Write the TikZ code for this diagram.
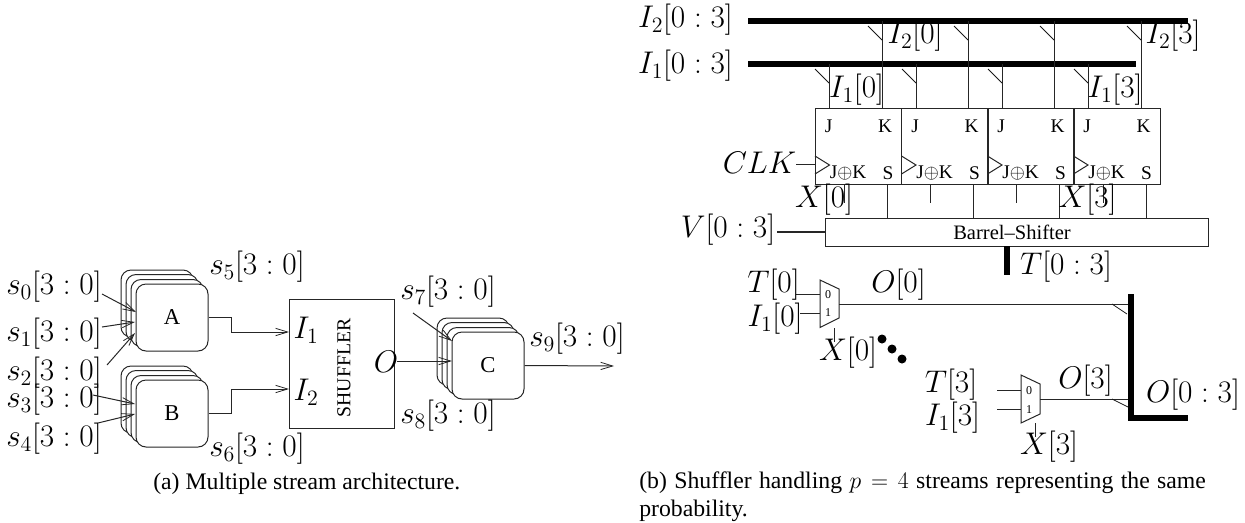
\documentclass[tikz,border=0pt]{standalone}
\usepackage{fix-cm}
\usepackage{fontspec}
\setmainfont{Liberation Serif}
\usetikzlibrary{arrows.meta}
\tikzset{
  wire/.style={line width=0.75pt,draw=black!85},
  thin wire/.style={line width=0.6pt,draw=black!90},
  bus/.style={line width=4.5pt,draw=black},
  arr/.style={wire,-{Straight Barb[length=9pt,width=5.5pt,line width=0.6pt]}},
  lab/.style={inner sep=0pt,font=\fontsize{23.5}{26}\selectfont},
  card/.style={draw=black!85,line width=0.75pt,fill=white,rounded corners=7.5pt,minimum width=54pt,minimum height=50.25pt,inner sep=0pt,font=\fontsize{17}{19}\selectfont},
  ffbox/.style={draw=black!85,line width=0.75pt,minimum width=64.6pt,minimum height=57pt,inner sep=0pt},
  small/.style={inner sep=0pt,font=\fontsize{14.5}{16}\selectfont},
  tiny/.style={inner sep=0pt,font=\fontsize{9}{10}\selectfont},
  captxt/.style={inner sep=0pt,font=\fontsize{17.8}{21}\selectfont,align=left},
}
\begin{document}
\begin{tikzpicture}[x=0.75pt,y=-0.75pt]
\useasboundingbox (0,0) rectangle (1245,522);
% stacks
\node[card] (a3) at (157,303.5) {};
\node[card] (a2) at (162,308) {};
\node[card] (a1) at (167,313) {};
\node[card] (a) at (172,317.5) {A};
\node[card] (b3) at (157,399.5) {};
\node[card] (b2) at (162,404) {};
\node[card] (b1) at (167,409) {};
\node[card] (b) at (172,413.5) {B};
\node[card] (c3) at (473,351.5) {};
\node[card] (c2) at (478,356) {};
\node[card] (c1) at (483,361) {};
\node[card] (c) at (488,365.5) {C};
% shuffler
\node[draw=black!85,line width=0.75pt,minimum width=78.75pt,minimum height=96.75pt,inner sep=0pt] (sh) at (341.5,363.5) {};
\node[inner sep=0pt,rotate=90,font=\fontsize{14.8}{16}\selectfont] (shl) at (344,368) {SHUFFLER};
\node[lab] (i1) at (306,330) {$I_1$};
\node[lab] (i2) at (306,392) {$I_2$};
\node[lab] (o) at (386,362) {$O$};
\coordinate (shi1) at (289,332);
\coordinate (shi2) at (289,389);
\draw[arr] (a.east) -- (231,317.5) |- (shi1);
\draw[arr] (b.east) -- (231,413.5) |- (shi2);
\coordinate (oo) at (397,361);
\coordinate (ci) at (452,361);
\draw[arr] (oo) -- (ci);
\coordinate (cout) at (614,366);
\draw[arr] (c.east) -- (cout);
% s labels
\node[lab] (s0) at (54,287) {$s_0[3:0]$};
\node[lab] (s1) at (54,334) {$s_1[3:0]$};
\node[lab] (s2) at (54,373) {$s_2[3:0]$};
\node[lab] (s3) at (54,400) {$s_3[3:0]$};
\node[lab] (s4) at (54,439) {$s_4[3:0]$};
\node[lab] (s5) at (257,267) {$s_5[3:0]$};
\node[lab] (s6) at (257,449) {$s_6[3:0]$};
\node[lab] (s7) at (448,292) {$s_7[3:0]$};
\node[lab] (s8) at (448,416) {$s_8[3:0]$};
\node[lab] (s9) at (577,339) {$s_9[3:0]$};
\coordinate (a0f) at (102,294); \coordinate (a0t) at (136,312);
\coordinate (a1f) at (102,327); \coordinate (a1t) at (135,322);
\coordinate (a2f) at (107,365); \coordinate (a2t) at (135,333);
\coordinate (b0f) at (93,395);  \coordinate (b0t) at (135,404);
\coordinate (b1f) at (98,423);  \coordinate (b1t) at (135,414);
\coordinate (c0f) at (413,313); \coordinate (c0t) at (452,341);
\foreach \p/\q in {a0f/a0t,a1f/a1t,a2f/a2t,b0f/b0t,b1f/b1t,c0f/c0t}
  \draw[arr] (\p) -- (\q);
% caption a
\node[captxt,anchor=base west] (capa) at (153,489) {(a) Multiple stream architecture.};
% buses
\coordinate (b2l) at (748,21); \coordinate (b2r) at (1188,21);
\coordinate (b1l) at (748,64); \coordinate (b1r) at (1136,64);
\draw[bus] (b2l) -- (b2r);
\draw[bus] (b1l) -- (b1r);
% flip flops
\foreach \n/\x in {0/858.5,1/945,2/1031,3/1117}{
  \node[ffbox] (ff\n) at (\x,146) {};
  \node[small] at (\x-30,126) {J};
  \node[small] at (\x+26.5,126) {K};
  \node[small] at (\x-10.5,173) {J$\oplus$K};
  \node[small] at (\x+29.5,173) {S};
  \draw[wire] (\x-43.5,156) -- (\x-29,165) -- (\x-43.5,174);
}
\foreach \x in {829,916,1002,1088}{
  \draw[wire] (\x,64) -- (\x,108);
  \draw[thin wire] (\x-14,69) -- (\x,83);
}
\foreach \x in {882,968,1054,1141}{
  \draw[wire] (\x,21) -- (\x,108);
  \draw[thin wire] (\x-14,26) -- (\x,40);
}
\node[lab] (li20) at (915,36) {$I_2[0]$};
\node[lab] (li23) at (1173,36) {$I_2[3]$};
\node[lab] (li10) at (856.5,90) {$I_1[0]$};
\node[lab] (li13) at (1115,90) {$I_1[3]$};
\node[lab] (li2) at (685.5,20) {$I_2[0:3]$};
\node[lab] (li1) at (685.5,66) {$I_1[0:3]$};
\node[lab] (clk) at (759.5,163) {$CLK$};
\coordinate (clkf) at (796,164);
\draw[wire] (clkf) -- (ff0.west |- clkf);
% barrel
\node[draw=black!85,line width=0.75pt,minimum width=287.25pt,minimum height=21pt,inner sep=0pt] (bs) at (1016.5,232) {};
\node[inner sep=0pt,font=\fontsize{15.4}{17}\selectfont] (bst) at (1012,232) {Barrel--Shifter};
\foreach \x in {887,973,1059,1146}
  \draw[wire] (\x,184) -- (\x,218);
\foreach \x in {844,930,1016,1103}
  \draw[wire] (\x,184) -- (\x,203);
\node[lab] (lx0) at (824,200) {$X[0]$};
\node[lab] (lx3) at (1087.5,200) {$X[3]$};
\node[lab] (lv) at (728,230) {$V[0:3]$};
\coordinate (vf) at (777,232);
\draw[line width=1.2pt,draw=black!85] (vf) -- (bs.west);
\coordinate (tf) at (1007,246); \coordinate (tt) at (1007,275);
\draw[bus] (tf) -- (tt);
\node[lab] (lt) at (1066,267) {$T[0:3]$};
% mux 0
\draw[wire] (820,280) -- (839,289) -- (839,318) -- (820,327.5) -- cycle;
\node[tiny] (m00) at (828,295) {0};
\node[tiny] (m01) at (828,313) {1};
\draw[wire] (796,294) -- (820,294);
\draw[wire] (800,313) -- (820,313);
\draw[wire] (839,304) -- (1131,304);
\draw[wire] (834,328) -- (834,342);
\draw[thin wire] (1112,304) -- (1127,314);
\node[lab] (lt0) at (773.5,285) {$T[0]$};
\node[lab] (li0) at (775,319) {$I_1[0]$};
\node[lab] (lx00) at (848,353) {$X[0]$};
\node[lab] (lo0) at (898.5,285) {$O[0]$};
\fill (882,339) circle[radius=4.5];
\fill (892,349) circle[radius=4.5];
\fill (902,359) circle[radius=4.5];
% mux 3
\draw[wire] (1021,375) -- (1040,384) -- (1040,414) -- (1021,423) -- cycle;
\node[tiny] (m30) at (1029,391) {0};
\node[tiny] (m31) at (1029,410) {1};
\draw[wire] (997,390) -- (1021,390);
\draw[wire] (997,409) -- (1021,409);
\draw[wire] (1040,399) -- (1131,399);
\draw[wire] (1035,423) -- (1035,437);
\draw[thin wire] (1112,399) -- (1128,407);
\node[lab] (lx33) at (1049,447) {$X[3]$};
\node[lab] (lo3) at (1085.5,381) {$O[3]$};
\node[lab] (lo) at (1193,395) {$O[0:3]$};
\node[lab] (lt3) at (951,385) {$T[3]$};
\node[lab] (li3) at (952.5,418) {$I_1[3]$};
\coordinate (ob) at (1131,294); \coordinate (oc) at (1131,418); \coordinate (oe) at (1188,418);
\draw[bus,line join=miter] (ob) -- (oc) -- (oe);
% caption b
\node[captxt,anchor=north west,text width=425pt,align=justify] (capb) at (639,472) {(b) Shuffler handling $p=4$ streams representing the same probability.};
\end{tikzpicture}
\end{document}
